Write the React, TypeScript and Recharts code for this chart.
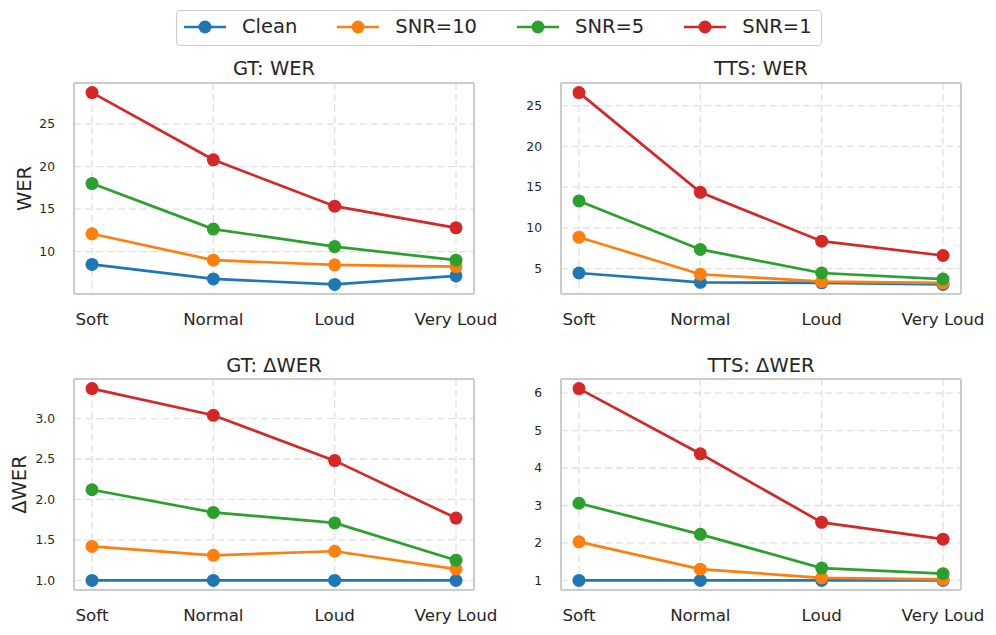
import React from 'react';
import { LineChart, Line, XAxis, YAxis, CartesianGrid } from 'recharts';

const categories = ['Soft', 'Normal', 'Loud', 'Very Loud'];
const seriesNames = ['Clean', 'SNR=10', 'SNR=5', 'SNR=1'];
const seriesColors = ['#1f77b4', '#ff7f0e', '#2ca02c', '#d62728'];

// GT: WER
const gtWerClean = [8.5, 6.8, 6.15, 7.15];
const gtWerSnr10 = [12.1, 9.0, 8.45, 8.25];
const gtWerSnr5 = [18.0, 12.65, 10.6, 9.0];
const gtWerSnr1 = [28.7, 20.8, 15.35, 12.8];

// TTS: WER
const ttsWerClean = [4.45, 3.3, 3.25, 3.05];
const ttsWerSnr10 = [8.85, 4.3, 3.4, 3.25];
const ttsWerSnr5 = [13.3, 7.35, 4.45, 3.7];
const ttsWerSnr1 = [26.6, 14.35, 8.36, 6.6];

// GT: ΔWER
const gtDeltaClean = [1.0, 1.0, 1.0, 1.0];
const gtDeltaSnr10 = [1.42, 1.31, 1.36, 1.14];
const gtDeltaSnr5 = [2.12, 1.84, 1.71, 1.25];
const gtDeltaSnr1 = [3.37, 3.04, 2.48, 1.77];

// TTS: ΔWER
const ttsDeltaClean = [1.0, 1.0, 1.0, 1.0];
const ttsDeltaSnr10 = [2.03, 1.3, 1.07, 1.03];
const ttsDeltaSnr5 = [3.06, 2.23, 1.33, 1.18];
const ttsDeltaSnr1 = [6.12, 4.38, 2.55, 2.1];

const ticksTL = [10, 15, 20, 25];
const ticksTR = [5, 10, 15, 20, 25];
const ticksBL = [1.0, 1.5, 2.0, 2.5, 3.0];
const ticksBR = [1, 2, 3, 4, 5, 6];

const FONT = '"DejaVu Sans", sans-serif';
const INK = '#262626';
const SPINE = { stroke: '#cccccc', strokeWidth: 2 };

function buildRows(values: number[][]) {
  return categories.map((name, i) => {
    const row: any = { name };
    seriesNames.forEach((s, j) => {
      row[s] = values[j][i];
    });
    return row;
  });
}

// matplotlib style 5% margins around the data range
function paddedDomain(values: number[][]): [number, number] {
  const all = values.flat();
  const lo = Math.min(...all);
  const hi = Math.max(...all);
  const pad = (hi - lo) * 0.05;
  return [lo - pad, hi + pad];
}

function Panel({ left, top, values, ticks, decimals }: any) {
  const rows = buildRows(values);
  const domain = paddedDomain(values);
  return (
    <div style={{ position: 'absolute', left, top }}>
      <LineChart width={500} height={290} data={rows} margin={{ top: 32, right: 25, bottom: 0, left: 0 }}>
        <CartesianGrid stroke="#e0e0e0" strokeDasharray="7 4" strokeWidth={1.3} />
        <XAxis
          dataKey="name"
          padding={{ left: 18, right: 18 }}
          axisLine={SPINE}
          tickLine={false}
          tickSize={0}
          tickMargin={19.6}
          height={46}
          interval={0}
          tick={{ fill: INK, fontSize: 16.7, fontFamily: FONT }}
        />
        <XAxis
          xAxisId="top"
          orientation="top"
          dataKey="name"
          padding={{ left: 18, right: 18 }}
          axisLine={SPINE}
          tickLine={false}
          tick={false}
          height={1}
        />
        <YAxis
          type="number"
          domain={domain}
          ticks={ticks}
          allowDataOverflow
          width={74}
          axisLine={SPINE}
          tickLine={false}
          tickSize={0}
          tickMargin={19}
          interval={0}
          tick={{ fill: INK, fontSize: 12.3, fontFamily: FONT }}
          tickFormatter={(v: number) => v.toFixed(decimals)}
        />
        <YAxis
          yAxisId="right"
          orientation="right"
          type="number"
          domain={domain}
          allowDataOverflow
          width={1}
          axisLine={SPINE}
          tickLine={false}
          tick={false}
        />
        {seriesNames.map((s, j) => (
          <Line
            key={s}
            type="linear"
            dataKey={s}
            stroke={seriesColors[j]}
            strokeWidth={2.7}
            dot={{ r: 6.5, fill: seriesColors[j], stroke: seriesColors[j], strokeWidth: 0 }}
            activeDot={false}
            isAnimationActive={false}
          />
        ))}
      </LineChart>
    </div>
  );
}

function Legend() {
  return (
    <div
      style={{
        position: 'absolute',
        left: 176,
        top: 10,
        height: 36,
        boxSizing: 'border-box',
        border: '1.3px solid #cccccc',
        borderRadius: 4,
        display: 'flex',
        alignItems: 'center',
        padding: '0 9px 2px 7px',
        background: '#ffffff',
        fontFamily: FONT,
        fontSize: 19.5,
        color: INK,
      }}
    >
      {seriesNames.map((s, j) => (
        <div key={s} style={{ display: 'flex', alignItems: 'center', marginLeft: j ? 40 : 0 }}>
          <svg width={42} height={16}>
            <line x1={0} y1={8} x2={42} y2={8} stroke={seriesColors[j]} strokeWidth={2.7} />
            <circle cx={21} cy={8} r={6.5} fill={seriesColors[j]} />
          </svg>
          <span style={{ marginLeft: 16, lineHeight: '20px' }}>{s}</span>
        </div>
      ))}
    </div>
  );
}

export default function App() {
  const textStyle = { fontFamily: FONT, fill: INK, fontSize: 19.5 };
  return (
    <div style={{ position: 'absolute', left: 0, top: 0, width: 996, height: 635, background: '#fff', overflow: 'hidden' }}>
      <Panel left={0} top={50} values={[gtWerClean, gtWerSnr10, gtWerSnr5, gtWerSnr1]} ticks={ticksTL} decimals={0} />
      <Panel left={487} top={50} values={[ttsWerClean, ttsWerSnr10, ttsWerSnr5, ttsWerSnr1]} ticks={ticksTR} decimals={0} />
      <Panel left={0} top={346} values={[gtDeltaClean, gtDeltaSnr10, gtDeltaSnr5, gtDeltaSnr1]} ticks={ticksBL} decimals={1} />
      <Panel left={487} top={346} values={[ttsDeltaClean, ttsDeltaSnr10, ttsDeltaSnr5, ttsDeltaSnr1]} ticks={ticksBR} decimals={0} />
      <svg width={996} height={635} style={{ position: 'absolute', left: 0, top: 0, pointerEvents: 'none' }}>
        <text x={274} y={75} textAnchor="middle" style={textStyle}>GT: WER</text>
        <text x={761} y={75} textAnchor="middle" style={textStyle}>TTS: WER</text>
        <text x={274} y={371.5} textAnchor="middle" style={textStyle}>GT: ΔWER</text>
        <text x={761} y={371.5} textAnchor="middle" style={textStyle}>TTS: ΔWER</text>
        <text x={30.5} y={188.5} textAnchor="middle" transform="rotate(-90 30.5 188.5)" style={textStyle}>WER</text>
        <text x={26} y={484.5} textAnchor="middle" transform="rotate(-90 26 484.5)" style={textStyle}>ΔWER</text>
      </svg>
      <Legend />
    </div>
  );
}
